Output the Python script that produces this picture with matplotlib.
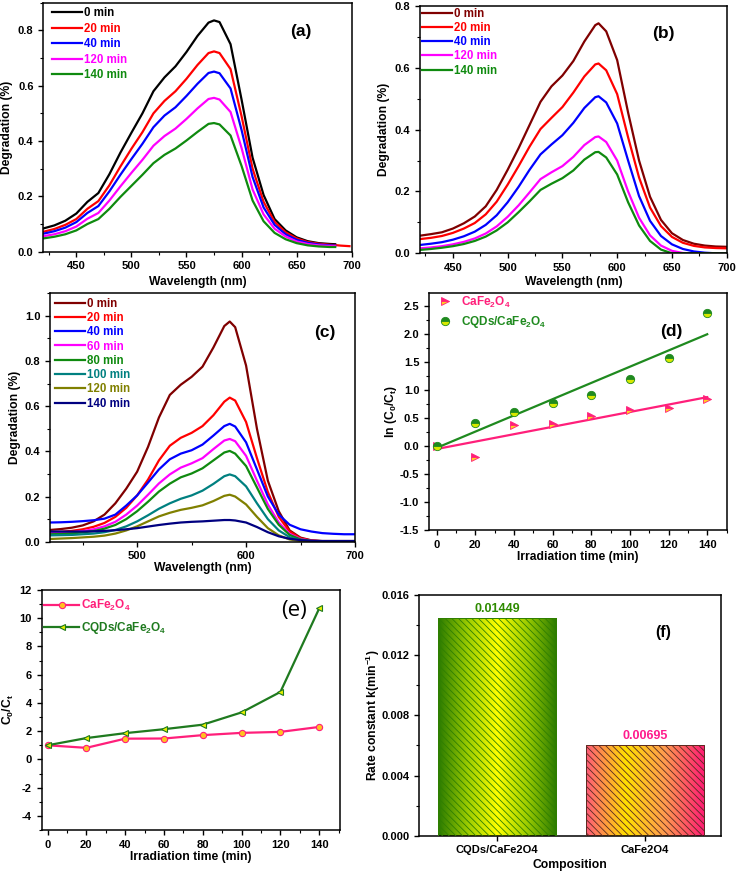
import numpy as np
import matplotlib
matplotlib.use('Agg')
import matplotlib.pyplot as plt
from matplotlib.ticker import MultipleLocator, FormatStrFormatter
from matplotlib.colors import LinearSegmentedColormap

plt.rcParams['font.family'] = ['Liberation Sans', 'DejaVu Sans']
plt.rcParams['font.weight'] = 'bold'
plt.rcParams['axes.labelweight'] = 'bold'
plt.rcParams['mathtext.fontset'] = 'custom'
plt.rcParams['mathtext.rm'] = 'Liberation Sans:bold'
plt.rcParams['mathtext.it'] = 'Liberation Sans:bold'
plt.rcParams['mathtext.bf'] = 'Liberation Sans:bold'
plt.rcParams['mathtext.default'] = 'rm'
plt.rcParams['axes.unicode_minus'] = False
plt.rcParams['hatch.linewidth'] = 0.6

# ---------------- data ----------------
# (a) spectra
wl_a = [420, 430, 440, 450, 460, 470, 480, 490, 500, 510, 520, 530, 540, 550, 560,
        570, 575, 580, 590, 600, 610, 620, 630, 640, 650, 660, 670, 680, 685]
wl_a_red = wl_a + [690, 698]
a_0 = [0.084, 0.095, 0.112, 0.138, 0.180, 0.212, 0.280, 0.358, 0.430, 0.500, 0.580, 0.630, 0.670, 0.722, 0.780,
       0.828, 0.836, 0.830, 0.750, 0.550, 0.340, 0.205, 0.118, 0.077, 0.052, 0.038, 0.031, 0.028, 0.027]
a_20 = [0.072, 0.082, 0.097, 0.118, 0.155, 0.183, 0.240, 0.308, 0.372, 0.432, 0.500, 0.545, 0.580, 0.625, 0.675,
        0.718, 0.724, 0.718, 0.660, 0.490, 0.300, 0.180, 0.108, 0.070, 0.048, 0.035, 0.029, 0.025, 0.024, 0.022, 0.020]
a_40 = [0.065, 0.074, 0.087, 0.107, 0.140, 0.165, 0.218, 0.278, 0.335, 0.390, 0.450, 0.492, 0.522, 0.563, 0.607,
        0.646, 0.651, 0.645, 0.590, 0.440, 0.270, 0.160, 0.097, 0.063, 0.043, 0.032, 0.026, 0.023, 0.022]
a_120 = [0.056, 0.063, 0.074, 0.091, 0.119, 0.140, 0.185, 0.236, 0.285, 0.332, 0.383, 0.418, 0.445, 0.480, 0.518,
         0.552, 0.556, 0.550, 0.505, 0.375, 0.225, 0.135, 0.083, 0.055, 0.037, 0.028, 0.023, 0.021, 0.020]
a_140 = [0.048, 0.054, 0.063, 0.077, 0.100, 0.118, 0.155, 0.198, 0.238, 0.278, 0.320, 0.350, 0.373, 0.402, 0.433,
         0.462, 0.465, 0.460, 0.420, 0.310, 0.185, 0.110, 0.068, 0.045, 0.031, 0.023, 0.019, 0.017, 0.017]

# (b) spectra
wl_b = [420, 430, 440, 450, 460, 470, 480, 490, 500, 510, 520, 530, 540, 550, 560, 570,
        580, 583, 590, 600, 610, 620, 630, 640, 650, 660, 670, 680, 690, 700]
b_0 = [0.057, 0.062, 0.068, 0.080, 0.097, 0.119, 0.152, 0.205, 0.270, 0.340, 0.415, 0.490, 0.540, 0.575, 0.622, 0.685,
       0.738, 0.744, 0.718, 0.625, 0.455, 0.300, 0.183, 0.108, 0.065, 0.043, 0.031, 0.025, 0.022, 0.021]
b_20 = [0.046, 0.050, 0.056, 0.066, 0.080, 0.098, 0.126, 0.167, 0.222, 0.282, 0.345, 0.402, 0.438, 0.473, 0.520, 0.572,
        0.611, 0.614, 0.592, 0.515, 0.375, 0.245, 0.148, 0.088, 0.053, 0.034, 0.024, 0.019, 0.017, 0.016]
b_40 = [0.027, 0.031, 0.036, 0.044, 0.055, 0.070, 0.092, 0.123, 0.165, 0.215, 0.270, 0.320, 0.352, 0.382, 0.422, 0.470,
        0.505, 0.508, 0.488, 0.420, 0.300, 0.185, 0.105, 0.056, 0.029, 0.014, 0.006, 0.002, 0.000, 0.000]
b_120 = [0.016, 0.019, 0.023, 0.029, 0.037, 0.048, 0.064, 0.087, 0.118, 0.155, 0.197, 0.240, 0.262, 0.282, 0.312, 0.350,
         0.376, 0.378, 0.360, 0.300, 0.200, 0.115, 0.058, 0.025, 0.008, 0.001, 0.000, 0.000, 0.000, 0.000]
b_140 = [0.011, 0.014, 0.018, 0.023, 0.030, 0.040, 0.054, 0.074, 0.100, 0.133, 0.168, 0.205, 0.225, 0.243, 0.268, 0.303,
         0.327, 0.328, 0.310, 0.255, 0.165, 0.090, 0.040, 0.012, 0.000, 0.000, 0.000, 0.000, 0.000, 0.000]

# (c) spectra
wl_c = [420, 430, 440, 450, 460, 470, 480, 490, 500, 510, 520, 530, 540, 550, 560, 570, 580,
        585, 590, 600, 610, 620, 630, 640, 650, 660, 670, 680, 690, 700]
c_0 = [0.052, 0.056, 0.062, 0.072, 0.090, 0.120, 0.170, 0.235, 0.310, 0.420, 0.550, 0.650, 0.695, 0.730, 0.775, 0.860, 0.955,
       0.975, 0.950, 0.780, 0.500, 0.270, 0.135, 0.050, 0.018, 0.006, 0.003, 0.003, 0.003, 0.003]
c_20 = [0.042, 0.044, 0.048, 0.055, 0.066, 0.083, 0.110, 0.150, 0.205, 0.275, 0.360, 0.425, 0.460, 0.482, 0.512, 0.560, 0.620,
        0.638, 0.625, 0.530, 0.370, 0.220, 0.110, 0.045, 0.015, 0.005, 0.002, 0.001, 0.000, 0.000]
c_40 = [0.085, 0.086, 0.088, 0.091, 0.095, 0.102, 0.120, 0.160, 0.205, 0.262, 0.320, 0.365, 0.390, 0.405, 0.430, 0.470, 0.512,
        0.522, 0.510, 0.440, 0.320, 0.200, 0.120, 0.075, 0.055, 0.045, 0.038, 0.035, 0.033, 0.033]
c_60 = [0.038, 0.039, 0.042, 0.047, 0.055, 0.068, 0.088, 0.120, 0.160, 0.208, 0.258, 0.298, 0.328, 0.347, 0.370, 0.410, 0.448,
        0.455, 0.445, 0.380, 0.270, 0.165, 0.085, 0.035, 0.012, 0.004, 0.002, 0.001, 0.000, 0.000]
c_80 = [0.033, 0.034, 0.037, 0.041, 0.047, 0.058, 0.074, 0.100, 0.135, 0.177, 0.222, 0.257, 0.285, 0.302, 0.325, 0.360, 0.395,
        0.402, 0.390, 0.335, 0.240, 0.145, 0.075, 0.030, 0.010, 0.003, 0.001, 0.000, 0.000, 0.000]
c_100 = [0.028, 0.029, 0.030, 0.033, 0.036, 0.042, 0.052, 0.068, 0.090, 0.117, 0.146, 0.170, 0.190, 0.205, 0.226, 0.256, 0.290,
         0.298, 0.290, 0.245, 0.170, 0.100, 0.050, 0.020, 0.007, 0.002, 0.000, 0.000, 0.000, 0.000]
c_120 = [0.012, 0.014, 0.016, 0.019, 0.022, 0.027, 0.036, 0.050, 0.068, 0.090, 0.112, 0.128, 0.141, 0.150, 0.161, 0.180, 0.203,
         0.208, 0.200, 0.165, 0.110, 0.060, 0.028, 0.010, 0.003, 0.000, 0.000, 0.000, 0.000, 0.000]
c_140 = [0.045, 0.045, 0.045, 0.045, 0.046, 0.048, 0.051, 0.055, 0.060, 0.067, 0.074, 0.080, 0.085, 0.088, 0.090, 0.093, 0.096,
         0.096, 0.094, 0.085, 0.065, 0.042, 0.024, 0.013, 0.007, 0.004, 0.003, 0.003, 0.003, 0.003]

# (d) kinetics ln(C0/Ct)
t = [0, 20, 40, 60, 80, 100, 120, 140]
ln_cafe = [0.0, -0.20, 0.38, 0.39, 0.54, 0.64, 0.67, 0.83]
ln_cqd = [0.0, 0.41, 0.61, 0.76, 0.90, 1.20, 1.57, 2.37]

# (e) C0/Ct
r_cafe = [1.0, 0.82, 1.47, 1.48, 1.72, 1.88, 1.95, 2.30]
r_cqd = [1.0, 1.51, 1.86, 2.14, 2.46, 3.33, 4.78, 10.7]

# (f) rate constants
comp = ['CQDs/CaFe2O4', 'CaFe2O4']
k_bar = [0.01449, 0.00605]
k_text = ['0.01449', '0.00695']

# ---------------- layout ----------------
W, H = 738, 873
fig = plt.figure(figsize=(W / 100, H / 100), dpi=100)


def box(l, r, t_, b):
    return fig.add_axes([l / W, 1 - b / H, (r - l) / W, (b - t_) / H])


def style(ax, xmaj, xmin, ymaj, ymin, yfmt):
    ax.xaxis.set_major_locator(MultipleLocator(xmaj))
    ax.xaxis.set_minor_locator(MultipleLocator(xmin))
    ax.yaxis.set_major_locator(MultipleLocator(ymaj))
    ax.yaxis.set_minor_locator(MultipleLocator(ymin))
    ax.yaxis.set_major_formatter(FormatStrFormatter(yfmt))
    ax.tick_params(which='major', direction='out', length=3.5, width=1, labelsize=8)
    ax.tick_params(which='minor', direction='out', length=2, width=0.8)
    for s in ax.spines.values():
        s.set_linewidth(1.1)


def labels(ax, xl, yl, xy, yx):
    ax.set_xlabel(xl, fontsize=8.7)
    ax.set_ylabel(yl, fontsize=8.7)
    ax.xaxis.set_label_coords(0.5, xy)
    ax.yaxis.set_label_coords(yx, 0.5)
    ax.xaxis.label.set_va('center')
    ax.yaxis.label.set_va('center')


def color_legend(ax, **kw):
    leg = ax.legend(frameon=False, fontsize=8.3, **kw)
    for txt, ln in zip(leg.get_texts(), leg.get_lines()):
        txt.set_color(ln.get_color())
    return leg


# (a)
ax = box(43.3, 351.7, 2.7, 251.7)
ax.plot(wl_a, a_0, color='black', lw=1.6, label='0 min')
ax.plot(wl_a_red, a_20, color='#ff0000', lw=1.6, label='20 min')
ax.plot(wl_a, a_40, color='#0000ff', lw=1.6, label='40 min')
ax.plot(wl_a, a_120, color='#ff00ff', lw=1.6, label='120 min')
ax.plot(wl_a, a_140, color='#0f8a0f', lw=1.6, label='140 min')
ax.set_xlim(420, 700)
ax.set_ylim(0, 0.9)
style(ax, 50, 25, 0.2, 0.1, '%.1f')
labels(ax, 'Wavelength (nm)', 'Degradation (%)', -0.12, -0.117)
color_legend(ax, loc='upper left', bbox_to_anchor=(0.02, 0.99), borderaxespad=0, borderpad=0.2,
             handlelength=2.6, handletextpad=0.2, labelspacing=0.3)
ax.text(0.836, 0.885, '(a)', transform=ax.transAxes, fontsize=12.5, ha='center', va='center')

# (b)
ax = box(420, 726.7, 6, 253.3)
ax.plot(wl_b, b_0, color='#800000', lw=1.6, label='0 min')
ax.plot(wl_b, b_20, color='#ff0000', lw=1.6, label='20 min')
ax.plot(wl_b, b_40, color='#0000ff', lw=1.6, label='40 min')
ax.plot(wl_b, b_120, color='#ff00ff', lw=1.6, label='120 min')
ax.plot(wl_b, b_140, color='#0f8a0f', lw=1.6, label='140 min')
ax.set_xlim(420, 700)
ax.set_ylim(0, 0.8)
style(ax, 50, 25, 0.2, 0.1, '%.1f')
labels(ax, 'Wavelength (nm)', 'Degradation (%)', -0.115, -0.117)
color_legend(ax, loc='upper left', bbox_to_anchor=(0.0, 1.003), borderaxespad=0, borderpad=0.2,
             handlelength=2.6, handletextpad=0.15, labelspacing=0.2)
ax.text(0.795, 0.89, '(b)', transform=ax.transAxes, fontsize=12.5, ha='center', va='center')

# (c)
ax = box(50, 355, 293.3, 541.7)
c_cols = ['#800000', '#ff0000', '#0000ff', '#ff00ff', '#0f8a0f', '#008080', '#808000', '#000080']
c_data = [c_0, c_20, c_40, c_60, c_80, c_100, c_120, c_140]
c_labs = ['0 min', '20 min', '40 min', '60 min', '80 min', '100 min', '120 min', '140 min']
for yv, col, lab in zip(c_data, c_cols, c_labs):
    ax.plot(wl_c, yv, color=col, lw=1.6, label=lab)
ax.set_xlim(420, 700)
ax.set_ylim(0, 1.1)
style(ax, 100, 50, 0.2, 0.1, '%.1f')
labels(ax, 'Wavelength (nm)', 'Degradation (%)', -0.106, -0.115)
color_legend(ax, loc='upper left', bbox_to_anchor=(0.01, 0.992), borderaxespad=0, borderpad=0.2,
             handlelength=2.6, handletextpad=0.15, labelspacing=0.2)
ax.text(0.902, 0.843, '(c)', transform=ax.transAxes, fontsize=12.5, ha='center', va='center')

# (d)
ax = box(429, 727.3, 293.3, 530)
pink = '#ff1f7a'
green = '#1f8a1f'
ax.plot(t, ln_cafe, ls='none', marker='>', ms=6, mfc=pink, mfcalt='#ffd21f', fillstyle='top',
        mec=pink, mew=0.6, label='CaFe$_2$O$_4$', zorder=3)
ax.plot(t, ln_cqd, ls='none', marker='o', ms=6, mfc=green, mfcalt='#d8e800', fillstyle='top',
        mec=green, mew=0.6, label='CQDs/CaFe$_2$O$_4$', zorder=3)
p1 = np.polyfit(t, ln_cafe, 1)
p2 = np.polyfit(t, ln_cqd, 1)
tt = np.array([t[0], t[-1]])
ax.plot(tt, np.polyval(p1, tt), color=pink, lw=1.6, zorder=2)
ax.plot(tt, np.polyval(p2, tt), color=green, lw=1.6, zorder=2)
ax.set_xlim(-4, 150.4)
ax.set_ylim(-1.5, 2.72)
style(ax, 20, 10, 0.5, 0.25, '%.1f')
labels(ax, 'Irradiation time (min)', 'ln (C$_0$/C$_t$)', -0.113, -0.128)
leg = ax.legend(frameon=False, fontsize=8.5, loc='upper left', bbox_to_anchor=(0.015, 1.005),
                borderaxespad=0, borderpad=0.2, handletextpad=0.6, labelspacing=0.4, handlelength=1.5)
leg.get_texts()[0].set_color(pink)
leg.get_texts()[1].set_color(green)
ax.text(0.812, 0.84, '(d)', transform=ax.transAxes, fontsize=12.5, ha='center', va='center')

# (e)
ax = box(41.7, 340, 590, 830)
ax.plot(t, r_cafe, color=pink, lw=1.6, marker='o', ms=4.5, mfc='#ffc21f', mec=pink, mew=0.8,
        label='CaFe$_2$O$_4$')
ax.plot(t, r_cqd, color='#1f7a1f', lw=1.6, marker='<', ms=5, mfc='#e8f000', mec='#1f7a1f', mew=0.8,
        label='CQDs/CaFe$_2$O$_4$')
ax.set_xlim(-3, 150.7)
ax.set_ylim(-5, 12)
style(ax, 20, 10, 2, 1, '%d')
labels(ax, 'Irradiation time (min)', 'C$_0$/C$_t$', -0.111, -0.112)
leg = ax.legend(frameon=False, fontsize=8.5, loc='upper left', bbox_to_anchor=(0.0, 0.975),
                borderaxespad=0, borderpad=0.2, handletextpad=0.1, labelspacing=0.55, handlelength=3.0)
leg.get_texts()[0].set_color(pink)
leg.get_texts()[1].set_color('#1f7a1f')
ax.text(0.845, 0.915, '(e)', transform=ax.transAxes, fontsize=16, ha='center', va='center',
        family='Open Sans', weight='normal')

# (f)
ax = box(419, 720.7, 595, 835.7)
xpos = np.arange(len(comp))
hatch_cols = ['#2f7f00', '#5a2a20']
bars = ax.bar(xpos, k_bar, width=0.8, facecolor='none', edgecolor=hatch_cols, hatch='\\\\\\\\\\',
              linewidth=0.7, zorder=3)
grads = [['#2a7a00', '#9ccc00', '#ffff00', '#9ccc00', '#2a7a00'],
         ['#ff5a7a', '#ffe000', '#ff9a50', '#ff1a75']]
for bar, cl in zip(bars, grads):
    cmap = LinearSegmentedColormap.from_list('g', cl)
    x0, w, h = bar.get_x(), bar.get_width(), bar.get_height()
    im = ax.imshow(np.linspace(0, 1, 256).reshape(1, -1), cmap=cmap, aspect='auto',
                   extent=[x0, x0 + w, 0, h], zorder=2)
    im.set_clip_path(bar)
txt_cols = ['#2e8b00', '#ff1a8c']
for xi, kv, s, c in zip(xpos, k_bar, k_text, txt_cols):
    ax.text(xi, kv + 0.0006, s, color=c, fontsize=9, ha='center', va='center')
ax.set_xlim(-0.526, 1.513)
ax.set_ylim(0, 0.016)
ax.set_xticks(xpos)
ax.set_xticklabels(comp, fontsize=9)
ax.yaxis.set_major_locator(MultipleLocator(0.004))
ax.yaxis.set_minor_locator(MultipleLocator(0.002))
ax.yaxis.set_major_formatter(FormatStrFormatter('%.3f'))
ax.tick_params(which='major', direction='out', length=3.5, width=1, labelsize=8)
ax.tick_params(which='minor', direction='out', length=2, width=0.8)
for s in ax.spines.values():
    s.set_linewidth(1.1)
labels(ax, 'Composition', 'Rate constant k(min$^{-1}$)', -0.122, -0.152)
ax.text(0.808, 0.845, '(f)', transform=ax.transAxes, fontsize=11.5, ha='center', va='center')

fig.savefig('out.png', dpi=100)
